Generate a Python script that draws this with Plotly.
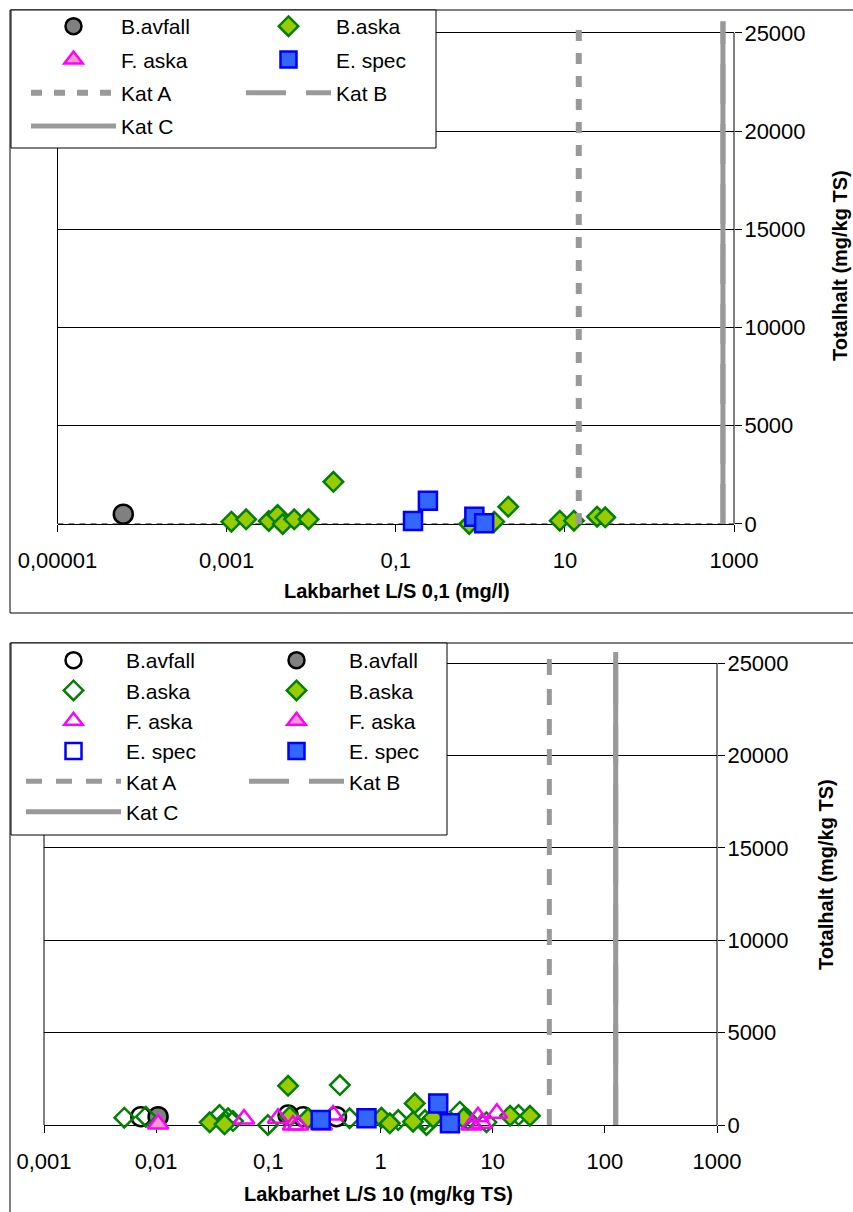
import plotly.graph_objects as go

W, H = 853, 1212
FONT = "Arial, Liberation Sans, sans-serif"

# ---------------- data: top chart (L/S 0,1, mg/l) ----------------
top_bavfall_x = [6.0e-5]
top_bavfall_y = [500]
top_baska_x = [1.14e-3, 1.70e-3, 3.15e-3, 4.0e-3, 4.6e-3, 6.3e-3, 9.3e-3, 1.83e-2,
               0.74, 1.46, 2.14, 8.7, 12.8, 24, 30]
top_baska_y = [117, 240, 153, 458, 0, 240, 240, 2150,
               0, 117, 880, 170, 170, 372, 340]
top_faska_x = [None]
top_faska_y = [None]
top_espec_x = [0.16, 0.24, 0.85, 1.11]
top_espec_y = [153, 1190, 372, 36]
top_kat = {"Kat A": 14.6, "Kat B": 740, "Kat C": 740}

# ---------------- data: bottom chart (L/S 10, mg/kg TS) ----------------
bot_bavfall_open_x = [7.3e-3, 0.150, 0.204, 0.405]
bot_bavfall_open_y = [450, 540, 450, 450]
bot_bavfall_fill_x = [0.0104]
bot_bavfall_fill_y = [450]
bot_baska_open_x = [5.2e-3, 8.1e-3, 0.0367, 0.0437, 0.0484, 0.099, 0.434, 0.53,
                    1.44, 2.49, 2.57, 5.1, 6.0, 8.8, 17]
bot_baska_open_y = [395, 450, 540, 360, 216, 0, 2160, 360,
                    270, 270, 0, 720, 300, 150, 540]
bot_baska_fill_x = [0.030, 0.0407, 0.150, 0.155, 0.226, 1.02, 1.21, 2.02, 1.95,
                    2.95, 5.5, 14.3, 21.5]
bot_baska_fill_y = [145, 38, 2120, 450, 360, 395, 90, 1170, 180,
                    395, 360, 500, 500]
bot_faska_open_x = [0.0607, 0.122, 0.166, 0.184, 0.30, 0.378, 6.5, 7.4, 8.0, 10.9]
bot_faska_open_y = [324, 360, 0, 0, 0, 540, 0, 450, 100, 630]
bot_faska_fill_x = [0.0104]
bot_faska_fill_y = [50]
bot_espec_open_x = [None]
bot_espec_open_y = [None]
bot_espec_fill_x = [0.293, 0.75, 3.27, 4.16]
bot_espec_fill_y = [270, 360, 1170, 90]
bot_kat = {"Kat A": 32, "Kat B": 125, "Kat C": 125}

kat_y = [0, 25600]

top_xticks = [1e-5, 1e-3, 0.1, 10, 1000]
top_xtext = ["0,00001", "0,001", "0,1", "10", "1000"]
bot_xticks = [1e-3, 1e-2, 0.1, 1, 10, 100, 1000]
bot_xtext = ["0,001", "0,01", "0,1", "1", "10", "100", "1000"]
yticks = [0, 5000, 10000, 15000, 20000, 25000]
ytext = ["0", "5000", "10000", "15000", "20000", "25000"]

# ---------------- styles ----------------
TRANSP = "rgba(0,0,0,0)"
STY = {
    "bavfall": dict(symbol="circle", size=19, fill="#808080", line="#000000"),
    "baska": dict(symbol="diamond", size=15, fill="#99CC00", line="#008000"),
    "faska": dict(symbol="triangle-up", size=18, fill="#FF99CC", line="#FF00FF"),
    "espec": dict(symbol="square", size=18, fill="#3366FF", line="#0000FF"),
}
KAT_STY = {
    "Kat A": dict(dash="11px,12px", width=6),
    "Kat B": dict(dash="40px,20px", width=5),
    "Kat C": dict(dash="solid", width=5),
}
GRAY = "#999999"

fig = go.Figure()


def px2x(p):
    return p / W


def px2y(p):
    return 1 - p / H


def add_pts(x, y, kind, name, filled, xa, ya, legend):
    s = STY[kind]
    fig.add_trace(go.Scatter(
        x=x, y=y, mode="markers", name=name,
        xaxis=xa, yaxis=ya, legend=legend, legendgroup=f"{legend}-{kind}-{filled}",
        marker=dict(symbol=s["symbol"], size=s["size"],
                    color=s["fill"] if filled else TRANSP,
                    line=dict(color=s["line"], width=2.5)),
        cliponaxis=False,
    ))


def add_kat(name, xval, xa, ya, legend, dash_override=None, width_override=None):
    st = KAT_STY[name]
    fig.add_trace(go.Scatter(
        x=[xval, xval], y=kat_y, mode="lines", name=name,
        xaxis=xa, yaxis=ya, legend=legend, legendgroup=f"{legend}-{name}",
        line=dict(color=GRAY, width=width_override or st["width"],
                  dash=dash_override or st["dash"]),
    ))


# ----- top chart -----
fig.add_trace(go.Scatter(x=[top_xticks[0], top_xticks[-1]], y=[0, 0], mode="lines",
                         xaxis="x", yaxis="y", showlegend=False, hoverinfo="skip",
                         line=dict(color="#808080", width=2, dash="6px,5px")))
add_pts(top_bavfall_x, top_bavfall_y, "bavfall", "B.avfall", True, "x", "y", "legend")
add_pts(top_baska_x, top_baska_y, "baska", "B.aska", True, "x", "y", "legend2")
add_pts(top_faska_x, top_faska_y, "faska", "F. aska", True, "x", "y", "legend")
add_pts(top_espec_x, top_espec_y, "espec", "E. spec", True, "x", "y", "legend2")
add_kat("Kat A", top_kat["Kat A"], "x", "y", "legend")
add_kat("Kat B", top_kat["Kat B"], "x", "y", "legend2")
add_kat("Kat C", top_kat["Kat C"], "x", "y", "legend")

# ----- bottom chart -----
add_pts(bot_bavfall_open_x, bot_bavfall_open_y, "bavfall", "B.avfall", False, "x2", "y2", "legend3")
add_pts(bot_bavfall_fill_x, bot_bavfall_fill_y, "bavfall", "B.avfall", True, "x2", "y2", "legend4")
add_pts(bot_baska_open_x, bot_baska_open_y, "baska", "B.aska", False, "x2", "y2", "legend3")
add_pts(bot_baska_fill_x, bot_baska_fill_y, "baska", "B.aska", True, "x2", "y2", "legend4")
add_pts(bot_faska_open_x, bot_faska_open_y, "faska", "F. aska", False, "x2", "y2", "legend3")
add_pts(bot_faska_fill_x, bot_faska_fill_y, "faska", "F. aska", True, "x2", "y2", "legend4")
add_pts(bot_espec_open_x, bot_espec_open_y, "espec", "E. spec", False, "x2", "y2", "legend3")
add_pts(bot_espec_fill_x, bot_espec_fill_y, "espec", "E. spec", True, "x2", "y2", "legend4")
add_kat("Kat A", bot_kat["Kat A"], "x2", "y2", "legend3", dash_override="16px,14px", width_override=5)
add_kat("Kat B", bot_kat["Kat B"], "x2", "y2", "legend4")
add_kat("Kat C", bot_kat["Kat C"], "x2", "y2", "legend3")

# ----- geometry (pixels) -----
TOP_X0, TOP_X1 = 57.5, 734
TOP_Y0 = 524  # y = 0
TOP_PPU = (524 - 33) / 25000
BOT_X0, BOT_X1 = 44, 717
BOT_Y0 = 1125
BOT_PPU = (1125 - 663) / 25000

top_ytop = TOP_Y0 - kat_y[1] * TOP_PPU
bot_ytop = BOT_Y0 - kat_y[1] * BOT_PPU

tickfont = dict(family=FONT, size=22, color="black")

xcommon = dict(type="log", showgrid=False, showline=True, linecolor="black", linewidth=1,
               ticks="outside", ticklen=7, tickcolor="black", tickfont=tickfont,
               ticklabelstandoff=10, layer="below traces", zeroline=False, automargin=False)
ycommon = dict(range=[0, kat_y[1]], side="right", showgrid=True, gridcolor="black",
               gridwidth=1, showline=False, ticks="outside", ticklen=7, tickcolor="black",
               tickfont=tickfont, tickvals=yticks, ticktext=ytext, layer="below traces",
               zeroline=False, automargin=False, ticklabelstandoff=-2)

fig.update_layout(
    width=W, height=H,
    margin=dict(l=0, r=0, t=0, b=0, autoexpand=False),
    paper_bgcolor="white", plot_bgcolor="white",
    font=dict(family=FONT, color="black"),
    xaxis=dict(xcommon, domain=[px2x(TOP_X0), px2x(TOP_X1)], anchor="y",
               range=[-5, 3], tickvals=top_xticks, ticktext=top_xtext),
    yaxis=dict(ycommon, domain=[px2y(TOP_Y0), px2y(top_ytop)], anchor="x"),
    xaxis2=dict(xcommon, domain=[px2x(BOT_X0), px2x(BOT_X1)], anchor="y2",
                range=[-3, 3], tickvals=bot_xticks, ticktext=bot_xtext),
    yaxis2=dict(ycommon, domain=[px2y(BOT_Y0), px2y(bot_ytop)], anchor="x2"),
    showlegend=True,
)

legfont = dict(family=FONT, size=21, color="black")
leg_common = dict(bgcolor=TRANSP, borderwidth=0, font=legfont,
                  orientation="v", xanchor="left", yanchor="top",
                  itemclick=False, itemdoubleclick=False)
fig.update_layout(
    legend=dict(leg_common, x=px2x(26), y=px2y(6), tracegroupgap=3, itemwidth=85),
    legend2=dict(leg_common, x=px2x(241), y=px2y(6), tracegroupgap=3, itemwidth=85),
    legend3=dict(leg_common, x=px2x(21), y=px2y(640), tracegroupgap=0, itemwidth=95),
    legend4=dict(leg_common, x=px2x(244), y=px2y(640), tracegroupgap=0, itemwidth=95),
)

shapes = [
    dict(type="rect", xref="paper", yref="paper", x0=px2x(10), x1=1.05,
         y0=px2y(613), y1=px2y(10), line=dict(color="black", width=1), layer="below"),
    dict(type="rect", xref="paper", yref="paper", x0=px2x(10), x1=1.05,
         y0=-0.05, y1=px2y(643), line=dict(color="black", width=1), layer="below"),
    dict(type="line", xref="x domain", yref="y", x0=0, x1=0, y0=0, y1=25000,
         line=dict(color="black", width=1), layer="below"),
    dict(type="line", xref="x domain", yref="y", x0=1, x1=1, y0=0, y1=25000,
         line=dict(color="black", width=1), layer="below"),
    dict(type="line", xref="x2 domain", yref="y2", x0=0, x1=0, y0=0, y1=25000,
         line=dict(color="black", width=1), layer="below"),
    dict(type="line", xref="x2 domain", yref="y2", x0=1, x1=1, y0=0, y1=25000,
         line=dict(color="black", width=1), layer="below"),
    dict(type="rect", xref="paper", yref="paper", x0=px2x(11), x1=px2x(436),
         y0=px2y(148), y1=px2y(10), line=dict(color="black", width=1),
         fillcolor="white", layer="above"),
    dict(type="rect", xref="paper", yref="paper", x0=px2x(11), x1=px2x(447),
         y0=px2y(835), y1=px2y(643), line=dict(color="black", width=1),
         fillcolor="white", layer="above"),
]
fig.update_layout(shapes=shapes)

title_font = dict(family=FONT, size=20, color="black")
annotations = [
    dict(text="<b>Lakbarhet L/S 0,1 (mg/l)</b>", x=px2x(397), y=px2y(591),
         xref="paper", yref="paper", showarrow=False, font=title_font,
         xanchor="center", yanchor="middle"),
    dict(text="<b>Totalhalt (mg/kg TS)</b>", x=px2x(840), y=px2y(266),
         xref="paper", yref="paper", showarrow=False, font=title_font, textangle=-90,
         xanchor="center", yanchor="middle"),
    dict(text="<b>Lakbarhet L/S 10 (mg/kg TS)</b>", x=px2x(378), y=px2y(1194),
         xref="paper", yref="paper", showarrow=False, font=title_font,
         xanchor="center", yanchor="middle"),
    dict(text="<b>Totalhalt (mg/kg TS)</b>", x=px2x(826), y=px2y(875),
         xref="paper", yref="paper", showarrow=False, font=title_font, textangle=-90,
         xanchor="center", yanchor="middle"),
]
fig.update_layout(annotations=annotations)

fig.write_html(
    "out.html",
    config={"displayModeBar": False},
    post_script="document.body.style.margin='0';document.body.style.overflow='hidden';",
)
